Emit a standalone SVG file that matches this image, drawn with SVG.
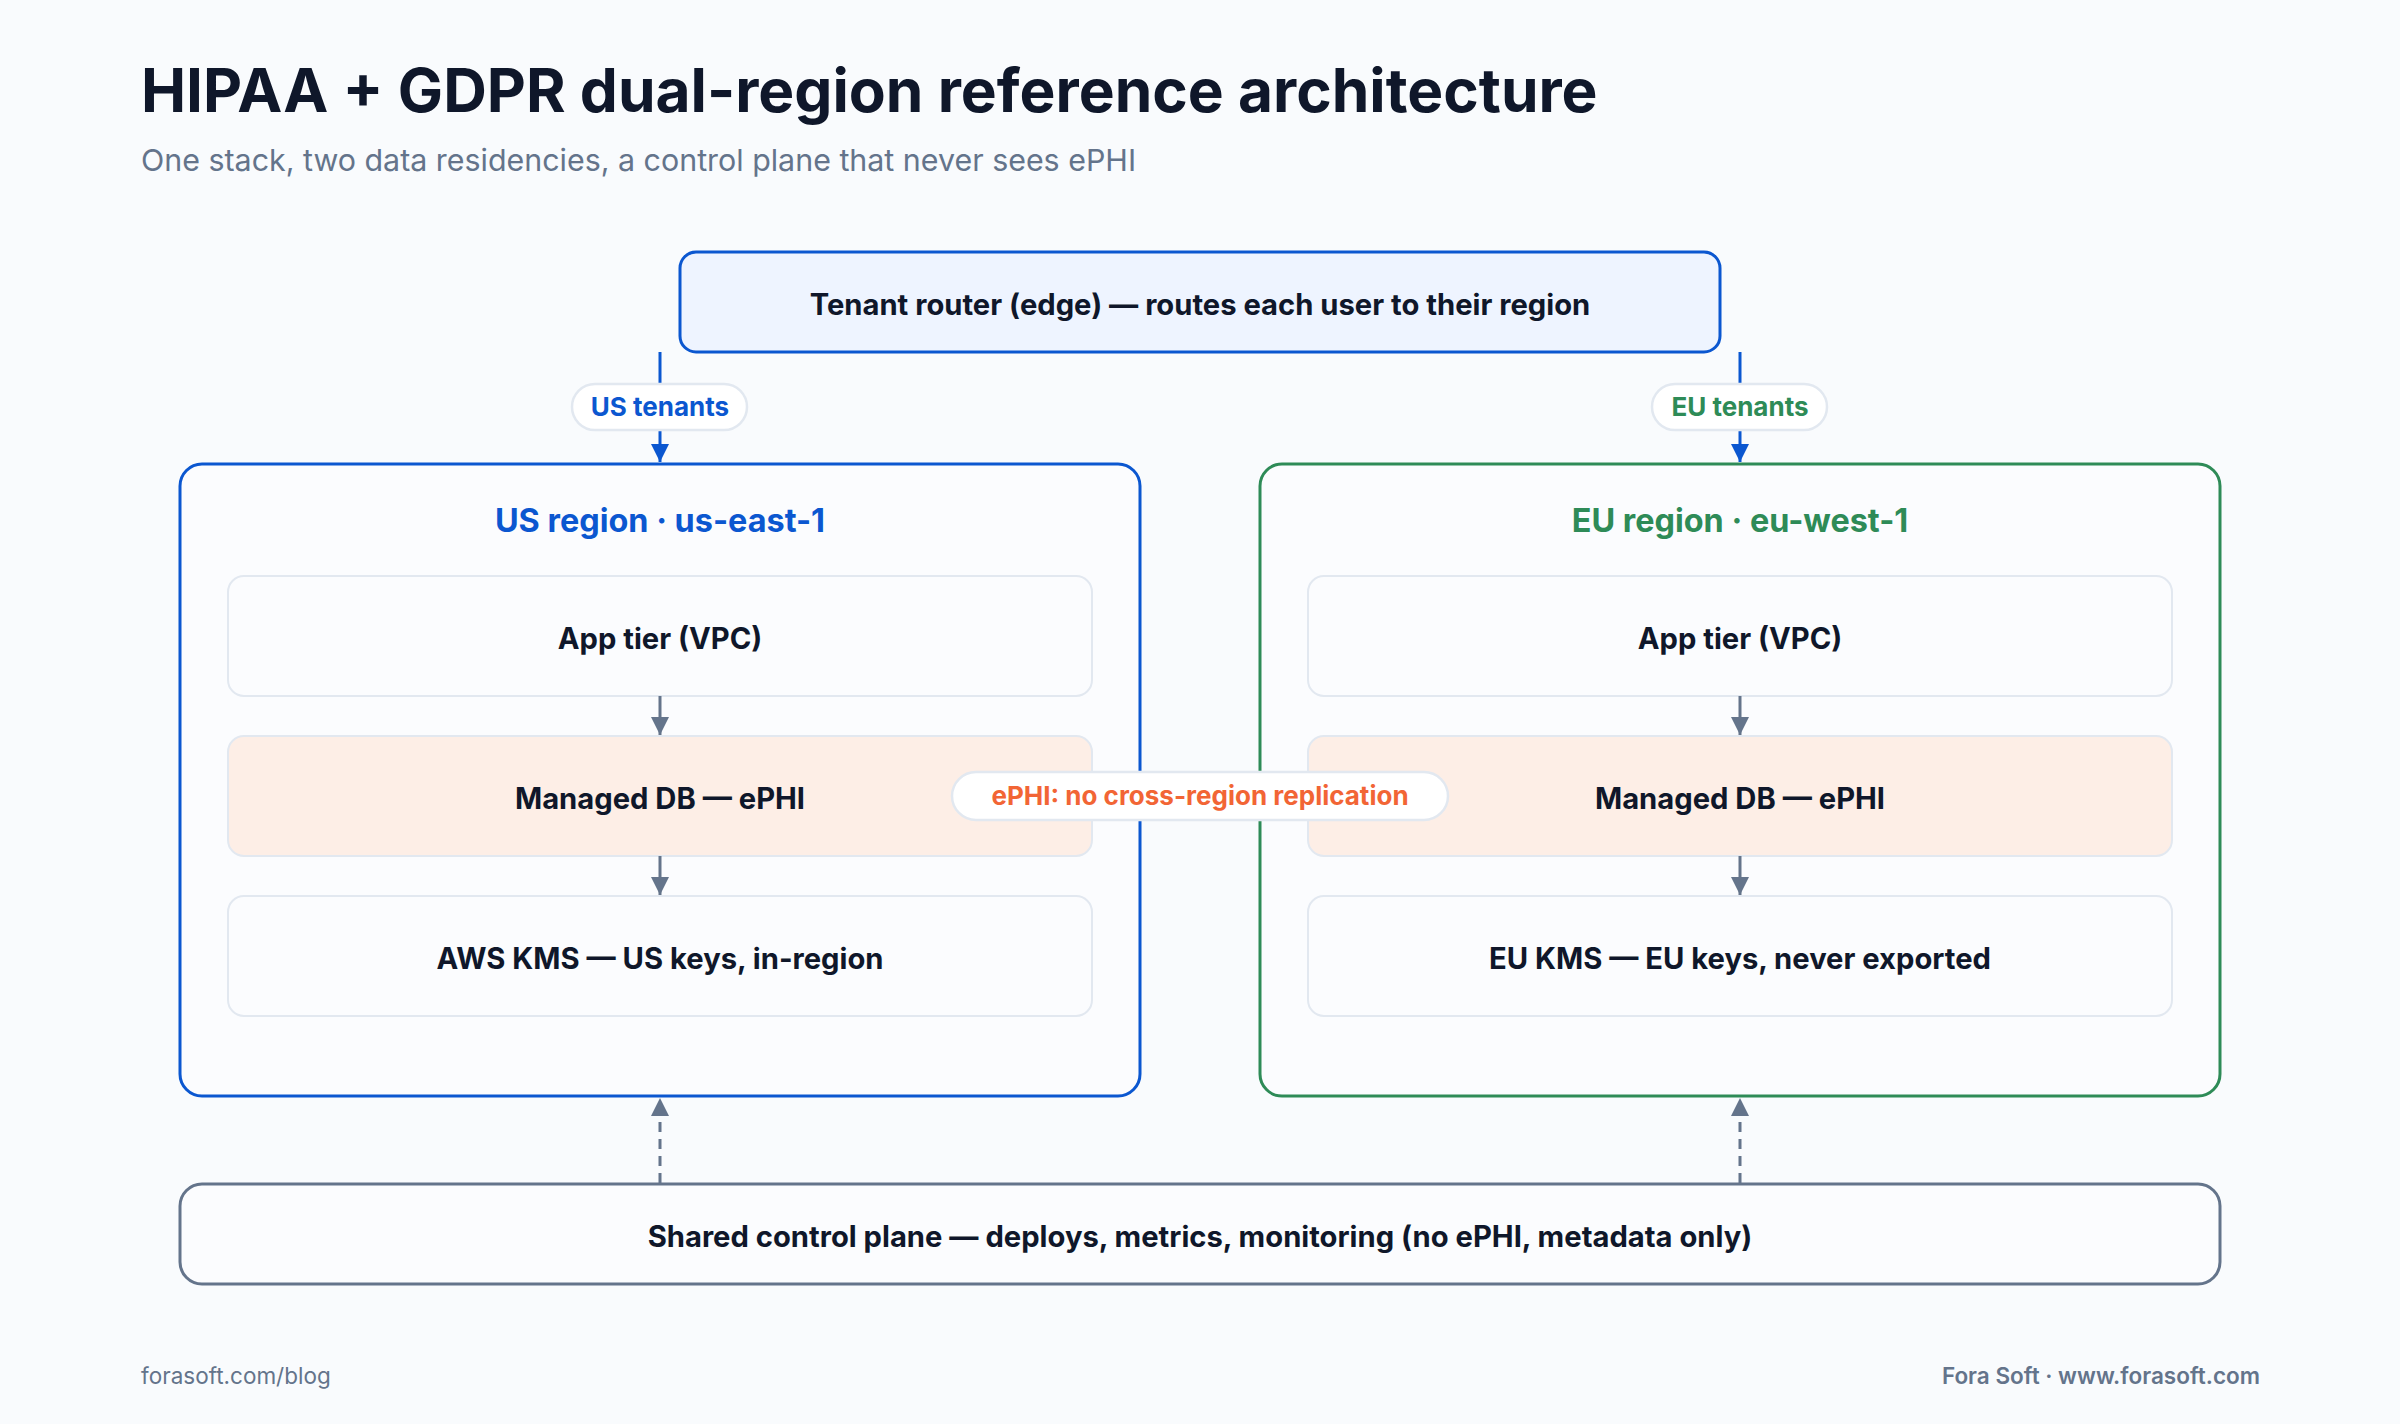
<svg xmlns="http://www.w3.org/2000/svg" width="2400" height="1424" viewBox="0 0 2400 1424">
<defs>
<style>
text{font-family:Inter,"Noto Sans","Liberation Sans",sans-serif;}
.title{font-size:60.4px;font-weight:700;fill:#0f172a;}
.sub{font-size:30.4px;font-weight:400;fill:#64748b;}
.lbl{font-size:29.2px;font-weight:700;fill:#0f172a;text-anchor:middle;}
.reg{font-size:32.4px;font-weight:700;text-anchor:middle;}
.pill{font-size:26px;font-weight:700;text-anchor:middle;}
.foot{font-size:22.5px;fill:#64748b;}
.inner{fill:#fbfcfe;stroke:#e2e8f0;stroke-width:2;}
.db{fill:#fdeee6;stroke:#e2e8f0;stroke-width:2;}
.pillbox{fill:#ffffff;stroke:#e2e8f0;stroke-width:2.5;}
.flow{stroke:#64748b;stroke-width:3;fill:none;}
.route{stroke:#0b57d0;stroke-width:3;fill:none;}
</style>
<marker id="ah-gray" viewBox="0 0 10 10" refX="10" refY="5" markerWidth="6" markerHeight="6" markerUnits="strokeWidth" orient="auto">
<path d="M0,0 L10,5 L0,10 z" fill="#64748b"/>
</marker>
<marker id="ah-blue" viewBox="0 0 10 10" refX="10" refY="5" markerWidth="6" markerHeight="6" markerUnits="strokeWidth" orient="auto">
<path d="M0,0 L10,5 L0,10 z" fill="#0b57d0"/>
</marker>
</defs>
<rect width="2400" height="1424" fill="#f9fbfd"/>
<text class="title" x="141" y="112">HIPAA + GDPR dual-region reference architecture</text>
<text class="sub" x="141" y="171">One stack, two data residencies, a control plane that never sees ePHI</text>

<g id="router">
<rect x="680" y="252" width="1040" height="100" rx="16" fill="#eef4ff" stroke="#0b57d0" stroke-width="3"/>
<text class="lbl" x="1200" y="315">Tenant router (edge) — routes each user to their region</text>
</g>

<g id="us-region">
<rect x="180" y="464" width="960" height="632" rx="22" fill="#fbfcfe" stroke="#0b57d0" stroke-width="3"/>
<text class="reg" x="660" y="532" fill="#0b57d0">US region · us-east-1</text>
</g>
<g id="us-app"><rect class="inner" x="228" y="576" width="864" height="120" rx="16"/><text class="lbl" x="660" y="649">App tier (VPC)</text></g>
<g id="us-db"><rect class="db" x="228" y="736" width="864" height="120" rx="16"/><text class="lbl" x="660" y="809">Managed DB — ePHI</text></g>
<g id="us-kms"><rect class="inner" x="228" y="896" width="864" height="120" rx="16"/><text class="lbl" x="660" y="969">AWS KMS — US keys, in-region</text></g>

<g id="eu-region">
<rect x="1260" y="464" width="960" height="632" rx="22" fill="#fbfcfe" stroke="#2e8b57" stroke-width="3"/>
<text class="reg" x="1740" y="532" fill="#2e8b57">EU region · eu-west-1</text>
</g>
<g id="eu-app"><rect class="inner" x="1308" y="576" width="864" height="120" rx="16"/><text class="lbl" x="1740" y="649">App tier (VPC)</text></g>
<g id="eu-db"><rect class="db" x="1308" y="736" width="864" height="120" rx="16"/><text class="lbl" x="1740" y="809">Managed DB — ePHI</text></g>
<g id="eu-kms"><rect class="inner" x="1308" y="896" width="864" height="120" rx="16"/><text class="lbl" x="1740" y="969">EU KMS — EU keys, never exported</text></g>

<g id="control-plane">
<rect x="180" y="1184" width="2040" height="100" rx="22" fill="#fbfcfe" stroke="#64748b" stroke-width="3"/>
<text class="lbl" x="1200" y="1247">Shared control plane — deploys, metrics, monitoring (no ePHI, metadata only)</text>
</g>

<g id="connectors">
<line class="route" x1="660" y1="352" x2="660" y2="462" marker-end="url(#ah-blue)"/>
<line class="route" x1="1740" y1="352" x2="1740" y2="462" marker-end="url(#ah-blue)"/>
<rect class="pillbox" x="572" y="384" width="175" height="46" rx="23"/>
<text class="pill" x="660" y="416" fill="#0b57d0">US tenants</text>
<rect class="pillbox" x="1652" y="384" width="175" height="46" rx="23"/>
<text class="pill" x="1740" y="416" fill="#2e8b57">EU tenants</text>

<line class="flow" x1="660" y1="696" x2="660" y2="735" marker-end="url(#ah-gray)"/>
<line class="flow" x1="660" y1="856" x2="660" y2="895" marker-end="url(#ah-gray)"/>
<line class="flow" x1="1740" y1="696" x2="1740" y2="735" marker-end="url(#ah-gray)"/>
<line class="flow" x1="1740" y1="856" x2="1740" y2="895" marker-end="url(#ah-gray)"/>

<line class="flow" x1="660" y1="1183" x2="660" y2="1098" stroke-dasharray="10 7" stroke-width="2.5" marker-end="url(#ah-gray)"/>
<line class="flow" x1="1740" y1="1183" x2="1740" y2="1098" stroke-dasharray="10 7" stroke-width="2.5" marker-end="url(#ah-gray)"/>

<rect class="pillbox" x="952" y="772" width="496" height="48" rx="24"/>
<text class="pill" x="1200" y="805" fill="#f26535">ePHI: no cross-region replication</text>
</g>

<text class="foot" x="141" y="1384">forasoft.com/blog</text>
<text class="foot" x="2260" y="1384" text-anchor="end" font-weight="600">Fora Soft · www.forasoft.com</text>
</svg>
